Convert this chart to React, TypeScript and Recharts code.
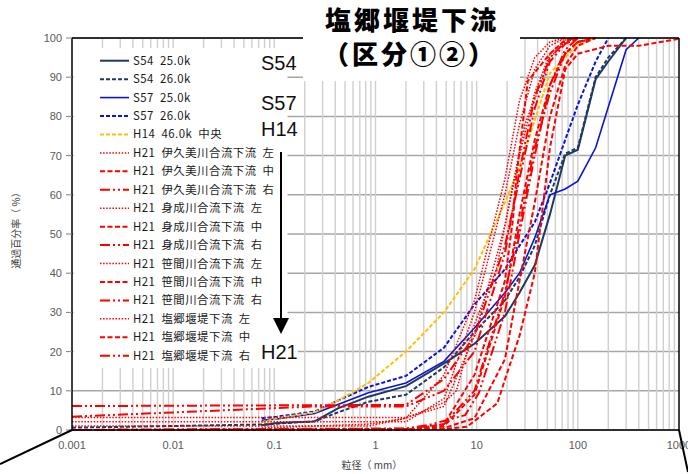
import React from 'react';
import { LineChart, Line, XAxis, YAxis, CartesianGrid, ReferenceLine } from 'recharts';

// ---- axis ticks ----
const xTicks = [0.001, 0.01, 0.1, 1, 10, 100, 1000];
const yTicks = [0, 10, 20, 30, 40, 50, 60, 70, 80, 90, 100];
const decades = [0.001, 0.01, 0.1, 1, 10, 100];
const multipliers = [1, 2, 3, 4, 5, 6, 7, 8, 9];

// ---- series values: [grain size (mm), passing (%)] ----
const S54_250 = [[0.075, 1.2], [0.106, 1.8], [0.25, 2.2], [0.425, 5.5], [0.85, 8.5], [2, 11.2], [4.75, 17], [9.5, 22], [19, 29], [26.5, 35], [37.5, 42], [53, 55], [75, 70], [100, 71.5], [150, 89.5], [200, 94], [300, 100]];
const S54_260 = [[0.001, 0.6], [0.075, 1.4], [0.25, 2.2], [0.425, 4.5], [0.85, 7.2], [2, 9], [4.75, 16], [9.5, 25], [19, 33], [26.5, 39], [37.5, 47], [53, 60], [75, 70.5], [100, 72], [150, 90], [200, 95], [300, 100]];
const S57_250 = [[0.075, 2.5], [0.106, 2.8], [0.25, 4.2], [0.425, 6.5], [0.85, 9.5], [2, 12], [4.75, 17.5], [9.5, 26], [19, 35], [26.5, 40], [37.5, 49], [53, 60], [75, 61.5], [100, 63.5], [150, 72], [300, 97], [400, 100]];
const S57_260 = [[0.075, 3], [0.106, 3.4], [0.25, 4.7], [0.425, 7.5], [0.85, 11], [2, 13.8], [4.75, 21], [9.5, 32], [19, 41], [26.5, 47], [37.5, 53], [53, 63], [75, 74], [100, 83], [150, 94], [200, 100]];
const H14_460 = [[0.075, 2], [0.106, 3], [0.25, 4.5], [0.425, 7.5], [0.85, 12], [2, 20], [4.75, 30], [9.5, 41], [19, 58], [26.5, 67], [37.5, 79], [53, 91], [75, 95], [100, 98.5], [150, 100]];
const H21_IKUMI_L = [[0.001, 3.2], [2, 3.2], [4.75, 6], [9.5, 24], [19, 52], [26.5, 70], [37.5, 86], [53, 96], [75, 99.5], [100, 100]];
const H21_IKUMI_C = [[0.001, 0], [2, 0], [4.75, 1.5], [9.5, 14], [19, 38], [22.9, 54], [24.7, 64.6], [32, 89], [53, 96], [75, 99.5], [100, 100]];
const H21_IKUMI_R = [[0.001, 6.1], [2, 6.4], [4.75, 13], [9.5, 24], [19, 47], [26.5, 64], [37.5, 82], [53, 94], [75, 98.5], [100, 100]];
const H21_MINARI_L = [[0.001, 2.1], [2, 2.1], [4.75, 8], [9.5, 30], [19, 60], [26.5, 78], [37.5, 92], [53, 98], [75, 100]];
const H21_MINARI_C = [[0.001, 0], [2, 0], [4.75, 1], [9.5, 9], [19, 34], [26.5, 55], [37.5, 74], [53, 88], [75, 96], [100, 99], [150, 100]];
const H21_MINARI_R = [[0.001, 3.4], [0.25, 6], [2, 6], [4.75, 10], [9.5, 20], [19, 45], [26.5, 66], [37.5, 85], [53, 95], [75, 99], [100, 100]];
const H21_SASAMA_L = [[0.001, 1], [0.85, 1], [2, 3], [4.75, 14], [9.5, 33], [19, 64], [26.5, 84], [37.5, 95], [53, 99], [75, 100]];
const H21_SASAMA_C = [[0.001, 0], [4.75, 0.3], [8, 0.8], [16, 6.8], [19, 12.8], [26.5, 24], [37.5, 40], [53, 72], [75, 92], [100, 96], [200, 98], [400, 98], [1000, 99.8]];
const H21_SASAMA_R = [[0.001, 0], [2, 0.4], [3.4, 1.3], [7.7, 3.8], [10.5, 9.4], [19, 30], [26.5, 50], [37.5, 70], [53, 88], [75, 97], [100, 100]];
const H21_SHIOGO_L = [[0.075, 0.5], [0.85, 1.5], [2, 3], [4.75, 7], [6.3, 10], [9.5, 27], [15.7, 41], [21, 58], [30, 78], [44, 89], [53, 95], [75, 99], [100, 100]];
const H21_SHIOGO_C = [[0.001, 0], [2, 0], [4.75, 0.5], [9.5, 3], [19, 18], [26.5, 38], [37.5, 58], [53, 80], [75, 93], [100, 98], [150, 100]];
const H21_SHIOGO_R = [[0.001, 0], [2, 0.3], [4.75, 1.5], [9.5, 10], [19, 35], [26.5, 52], [37.5, 72], [53, 86], [75, 96], [100, 99], [150, 100]];

// ---- series names ----
const names = [
  'S54 25.0k', 'S54 26.0k', 'S57 25.0k', 'S57 26.0k', 'H14 46.0k 中央',
  'H21 伊久美川合流下流 左', 'H21 伊久美川合流下流 中', 'H21 伊久美川合流下流 右',
  'H21 身成川合流下流 左', 'H21 身成川合流下流 中', 'H21 身成川合流下流 右',
  'H21 笹間川合流下流 左', 'H21 笹間川合流下流 中', 'H21 笹間川合流下流 右',
  'H21 塩郷堰堤下流 左', 'H21 塩郷堰堤下流 中', 'H21 塩郷堰堤下流 右',
];
const values = [
  S54_250, S54_260, S57_250, S57_260, H14_460,
  H21_IKUMI_L, H21_IKUMI_C, H21_IKUMI_R,
  H21_MINARI_L, H21_MINARI_C, H21_MINARI_R,
  H21_SASAMA_L, H21_SASAMA_C, H21_SASAMA_R,
  H21_SHIOGO_L, H21_SHIOGO_C, H21_SHIOGO_R,
];

// ---- styles ----
const NAVY = '#1F3864';
const BLUE = '#0A14D2';
const ORANGE = '#FFC000';
const RED = '#FF0000';
const DOT = { dash: '1.5 1.6', width: 1.5 };
const DASH = { dash: '5 2.5', width: 2 };
const DASHDOT = { dash: '10 3 2 3 2 3', width: 2 };
const styles = [
  { color: NAVY, dash: undefined, width: 2 },
  { color: NAVY, dash: '4 2', width: 2 },
  { color: BLUE, dash: undefined, width: 1.6 },
  { color: BLUE, dash: '4 2', width: 2 },
  { color: ORANGE, dash: '4 2', width: 2 },
  { color: RED, ...DOT }, { color: RED, ...DASH }, { color: RED, ...DASHDOT },
  { color: RED, ...DOT }, { color: RED, ...DASH }, { color: RED, ...DASHDOT },
  { color: RED, ...DOT }, { color: RED, ...DASH }, { color: RED, ...DASHDOT },
  { color: RED, ...DOT }, { color: RED, ...DASH }, { color: RED, ...DASHDOT },
];

const series = names.map((name, i) => ({
  name,
  data: values[i].map(([d, p]) => ({ d, p })),
  ...styles[i],
}));

const gridX: number[] = [];
decades.forEach((dec) => multipliers.forEach((m) => {
  const v = +(dec * m).toPrecision(3);
  if (v > 0.001 && v < 1000) gridX.push(v);
}));

const LATIN = "'Liberation Sans', Arial, sans-serif";
const CJK = "'Noto Sans CJK JP', sans-serif";

export default function App() {
  const rowY = (i: number) => 60.7 + i * 18.44;
  return (
    <div style={{ position: 'absolute', left: 0, top: 0, width: 688, height: 474, background: '#fff' }}>
      <LineChart width={688} height={474} margin={{ top: 38, right: 9, left: 0, bottom: 0 }}>
        <CartesianGrid vertical={false} stroke="#A6A6A6" strokeWidth={1.5} />
        {gridX.map((v) => (
          <ReferenceLine key={'g' + v} x={v} stroke="#CFCFCF" strokeWidth={1.4} ifOverflow="hidden" />
        ))}
        <XAxis
          dataKey="d"
          type="number"
          scale="log"
          domain={[0.001, 1000]}
          ticks={xTicks}
          allowDataOverflow
          height={44}
          tickLine={false}
          tickMargin={5}
          axisLine={{ stroke: '#000', strokeWidth: 1.5 }}
          tick={{ fontSize: 11, fill: '#595959', fontFamily: LATIN }}
          tickFormatter={(v: number) => String(v)}
          interval={0}
        />
        <YAxis
          type="number"
          domain={[0, 100]}
          ticks={yTicks}
          width={72}
          tickSize={6}
          tickMargin={4}
          axisLine={{ stroke: '#000', strokeWidth: 1.5 }}
          tickLine={{ stroke: '#808080' }}
          tick={{ fontSize: 11, fill: '#595959', fontFamily: LATIN }}
          interval={0}
        />
        {series.map((s) => (
          <Line
            key={s.name}
            data={s.data}
            dataKey="p"
            name={s.name}
            type="linear"
            stroke={s.color}
            strokeWidth={s.width}
            strokeDasharray={s.dash}
            dot={false}
            activeDot={false}
            isAnimationActive={false}
          />
        ))}
        <ReferenceLine y={100} stroke="#000" strokeWidth={1.5} />
        <ReferenceLine x={1000} stroke="#000" strokeWidth={1.5} />
      </LineChart>

      <svg width={688} height={474} style={{ position: 'absolute', left: 0, top: 0, pointerEvents: 'none' }}>
        {/* legend box */}
        <rect x={73.5} y={48} width={214} height={320} fill="#fff" />
        {series.map((s, i) => (
          <g key={'lg' + i}>
            <line x1={100} x2={129} y1={rowY(i)} y2={rowY(i)} stroke={s.color} strokeWidth={s.width} strokeDasharray={s.dash} />
            <text x={133} y={rowY(i) + 4} fontFamily={CJK} fontSize={11.4} letterSpacing={0.5} fill="#1a1a1a">
              {s.name.split(' ').map((w, k) => (
                <tspan key={k} dx={k === 0 ? 0 : 6}>{w}</tspan>
              ))}
            </text>
          </g>
        ))}
        {/* period labels */}
        <rect x={258} y={52} width={44} height={21} fill="#fff" />
        <rect x={258} y={92} width={44} height={21} fill="#fff" />
        <rect x={258} y={118} width={44} height={21} fill="#fff" />
        <rect x={258} y={340} width={40} height={22} fill="#fff" />
        <text x={261} y={70} fontFamily={LATIN} fontSize={20} fill="#111">S54</text>
        <text x={261} y={110} fontFamily={LATIN} fontSize={20} fill="#111">S57</text>
        <text x={261} y={136} fontFamily={LATIN} fontSize={20} fill="#111">H14</text>
        <text x={261} y={359} fontFamily={LATIN} fontSize={20} fill="#111">H21</text>
        {/* arrow */}
        <line x1={281} x2={281} y1={152} y2={320} stroke="#000" strokeWidth={2} />
        <polygon points="273,318 289,318 281,334" fill="#000" />
        {/* title */}
        <rect x={303} y={0} width={217} height={81} fill="#fff" />
        <text x={412} y={30} textAnchor="middle" fontFamily={CJK} fontWeight={900} fontSize={26} letterSpacing={3} fill="#000">塩郷堰堤下流</text>
        <text x={410} y={64} textAnchor="middle" fontFamily={CJK} fontWeight={900} fontSize={26} letterSpacing={3} fill="#000">（区分①②）</text>
        {/* axis titles */}
        <text x={372} y={469} textAnchor="middle" fontFamily={CJK} fontSize={10} fill="#404040">粒径（ mm）</text>
        <text transform="translate(20,228) rotate(-90)" textAnchor="middle" fontFamily={CJK} fontSize={10} fill="#404040">通過百分率（ %）</text>
        {/* decorative diagonal lines */}
        <line x1={0} y1={464} x2={72} y2={430} stroke="#000" strokeWidth={2} />
        <line x1={679} y1={430} x2={688} y2={472} stroke="#000" strokeWidth={2} />
      </svg>
    </div>
  );
}
